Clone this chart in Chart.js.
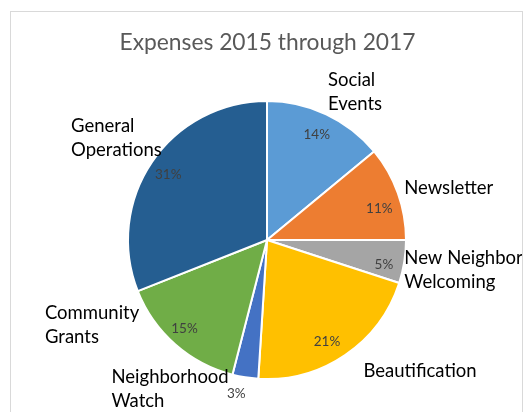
<!DOCTYPE html>
<html>
<head>
<meta charset="utf-8">
<script src="https://cdn.jsdelivr.net/npm/chart.js@4"></script>
<style>
  html, body { margin:0; padding:0; background:#fff; }
  #wrap { width:525px; height:412px; }
</style>
</head>
<body>
<div id="wrap"><canvas id="myChart" width="525" height="412"></canvas></div>
<script>
// データ
const chartTitle = 'Expenses 2015 through 2017';
const categories = [
  ['Social', 'Events'],
  ['Newsletter'],
  ['New Neighbor', 'Welcoming'],
  ['Beautification'],
  ['Neighborhood', 'Watch'],
  ['Community', 'Grants'],
  ['General', 'Operations']
];
const shares = [14, 11, 5, 21, 3, 15, 31];
const colors = ['#5B9BD5', '#ED7D31', '#A5A5A5', '#FFC000', '#4472C4', '#70AD47', '#255E91'];

// ラベル位置の微調整 (中心角からのずれ[度], 半径に対する倍率)
const nameNudge = [[5.5, 1.24], [3.8, 1.36], [-0.4, 1.43], [-15.2, 1.45], [24, 1.28], [22.6, 1.40], [0, 1.31]];
const pctNudge = [[0, 0.84], [4, 0.84], [3, 0.86], [3.7, 0.85], [2.3, 1.13], [1.6, 0.87], [-0.9, 0.85]];

const FONT = 'Lato, "Open Sans", sans-serif';

// タイトル・枠・ラベルを描くプラグイン
const decor = {
  id: 'decor',
  beforeDraw(chart) {
    const c = chart.ctx;
    c.save();
    c.strokeStyle = '#d9d9d9';
    c.lineWidth = 1;
    c.strokeRect(10.5, 11.5, 512, 420);
    c.fillStyle = '#595959';
    c.font = '22.8px ' + FONT;
    c.textAlign = 'center';
    c.textBaseline = 'alphabetic';
    c.fillText(chartTitle, chart.width / 2 + 5, 50);
    c.restore();
  },
  afterDraw(chart) {
    const c = chart.ctx;
    const arcs = chart.getDatasetMeta(0).data;
    c.save();
    c.beginPath();
    c.rect(10, 11, 512, 420);
    c.clip();
    arcs.forEach((arc, i) => {
      const p = arc.getProps(['x', 'y', 'startAngle', 'endAngle', 'outerRadius'], true);
      const mid = (p.startAngle + p.endAngle) / 2;
      // パーセント
      let a = mid + pctNudge[i][0] * Math.PI / 180;
      let r = p.outerRadius * pctNudge[i][1];
      c.fillStyle = '#404040';
      c.font = '13.5px ' + FONT;
      c.textAlign = 'center';
      c.textBaseline = 'middle';
      c.fillText(shares[i] + '%', p.x + r * Math.cos(a), p.y + r * Math.sin(a));
      // カテゴリ名
      a = mid + nameNudge[i][0] * Math.PI / 180;
      r = p.outerRadius * nameNudge[i][1];
      const cx = p.x + r * Math.cos(a);
      const cy = p.y + r * Math.sin(a);
      const lines = categories[i];
      c.fillStyle = '#000';
      c.font = '18.5px ' + FONT;
      const w = Math.max(...lines.map(t => c.measureText(t).width));
      c.textAlign = 'left';
      const lh = 24;
      lines.forEach((t, k) => {
        c.fillText(t, cx - w / 2, cy + (k - (lines.length - 1) / 2) * lh);
      });
    });
    c.restore();
  }
};

const ctx = document.getElementById('myChart').getContext('2d');
const myChart = new Chart(ctx, {
  type: 'pie',
  data: {
    labels: categories.map(l => l.join(' ')),
    datasets: [{
      data: shares,
      backgroundColor: colors,
      borderColor: '#ffffff',
      borderWidth: 2
    }]
  },
  options: {
    responsive: false,
    animation: false,
    layout: { padding: { top: 100, bottom: 32, left: 127, right: 118 } },
    plugins: {
      legend: { display: false },
      title: { display: false },
      tooltip: { enabled: false }
    }
  },
  plugins: [decor]
});
</script>
</body>
</html>
